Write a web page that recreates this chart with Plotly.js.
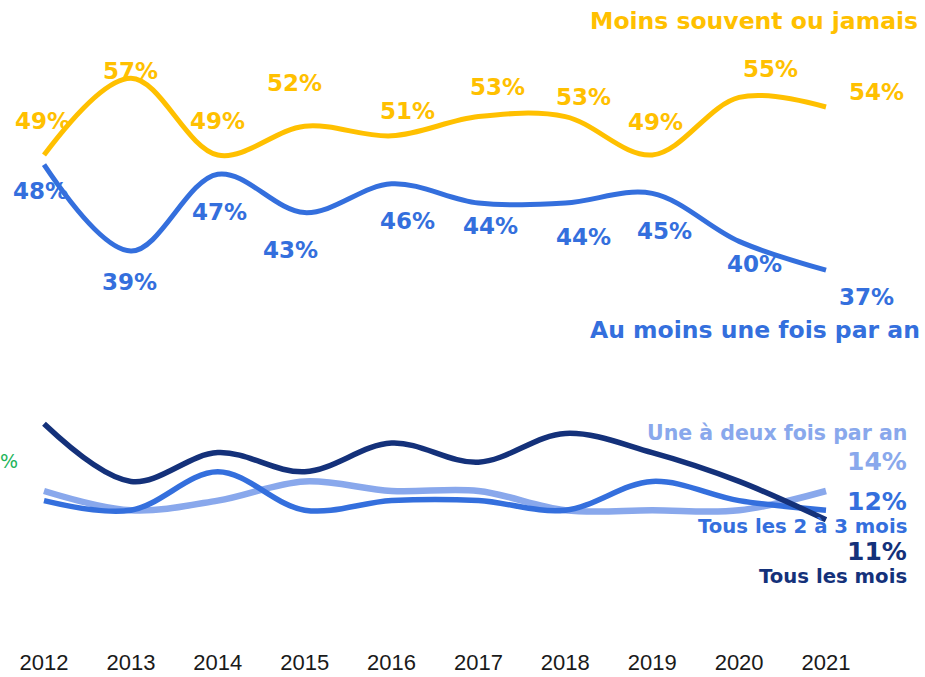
<!DOCTYPE html>
<html>
<head>
<meta charset="utf-8">
<script src="https://cdn.plot.ly/plotly-3.0.1.min.js"></script>
<style>
  html, body { margin: 0; padding: 0; background: #ffffff; }
  #chart { width: 925px; height: 677px; }
</style>
</head>
<body>
<div id="chart"></div>
<script>
// ---- Data ----
var years = [2012, 2013, 2014, 2015, 2016, 2017, 2018, 2019, 2020, 2021];
var moinsSouvent   = [49, 57, 49, 52, 51, 53, 53, 49, 55, 54];
var auMoinsUneFois = [48, 39, 47, 43, 46, 44, 44, 45, 40, 37];
var uneADeuxFois   = [14, 12, 13, 15, 14, 14, 12, 12, 12, 14];
var tousLes2a3Mois = [13, 12, 16, 12, 13, 13, 12, 15, 13, 12];
var tousLesMois    = [21, 15, 18, 16, 19, 17, 20, 18, 15, 11];
var seriesNames = {
  moins: "Moins souvent ou jamais",
  auMoins: "Au moins une fois par an",
  uneDeux: "Une à deux fois par an",
  deuxTrois: "Tous les 2 à 3 mois",
  mois: "Tous les mois"
};

// ---- Styles / layout helpers ----
var W = 925, H = 677;
var M = {l: 0, r: 0, t: 0, b: 30};
var C = {
  yellow: "#FFC000",
  blue: "#346FDD",
  light: "#89A8EC",
  navy: "#14317A",
  green: "#1DB45A"
};
var LABEL_FONT = "DejaVu Sans, Verdana, sans-serif";

// label offsets (pixels) for value labels
var offYellow = [[-2, 34], [0, 7], [0, 34], [-10, 43], [16, 25], [19, 30], [18, 20], [3, 33], [31, 28], [50, 15]];
var offBlue   = [[-4, -26], [-1, -31], [2, -38], [-14, -37], [16, -37], [12, -23], [18, -34], [12, -38], [15, -23], [40, -27]];

function px(x) { return (x - M.l) / (W - M.l - M.r); }
function py(y) { return 1 - (y - M.t) / (H - M.t - M.b); }

function lineTrace(y, color, width) {
  return {
    x: years, y: y, type: "scatter", mode: "lines",
    line: {color: color, width: width, shape: "spline", smoothing: 1},
    hoverinfo: "skip", showlegend: false
  };
}

var traces = [
  lineTrace(uneADeuxFois, C.light, 6.5),
  lineTrace(tousLes2a3Mois, C.blue, 5.5),
  lineTrace(tousLesMois, C.navy, 5.5),
  lineTrace(auMoinsUneFois, C.blue, 5),
  lineTrace(moinsSouvent, C.yellow, 5)
];

var annotations = [];
function valueLabels(vals, offs, color) {
  vals.forEach(function (v, i) {
    annotations.push({
      x: years[i], y: v, xref: "x", yref: "y",
      text: v + "%", showarrow: false,
      xanchor: "center", yanchor: "middle",
      xshift: offs[i][0], yshift: offs[i][1],
      font: {family: LABEL_FONT, size: 23, color: color, weight: "bold"}
    });
  });
}
valueLabels(moinsSouvent, offYellow, C.yellow);
valueLabels(auMoinsUneFois, offBlue, C.blue);

function textAt(text, x, yc, color, size, anchor, weight) {
  annotations.push({
    x: px(x), y: py(yc), xref: "paper", yref: "paper",
    text: text, showarrow: false, xanchor: anchor || "right", yanchor: "middle",
    font: {family: LABEL_FONT, size: size, color: color, weight: weight || "bold"}
  });
}
var last = years.length - 1;
textAt(seriesNames.moins, 920, 21, C.yellow, 23.5);
textAt(seriesNames.auMoins, 922, 330, C.blue, 23.5);
textAt(seriesNames.uneDeux, 909, 433, C.light, 20.5);
textAt(uneADeuxFois[last] + "%", 909, 461, C.light, 25);
textAt(tousLes2a3Mois[last] + "%", 909, 501, C.blue, 25);
textAt(seriesNames.deuxTrois, 909, 526, C.blue, 19.7);
textAt(tousLesMois[last] + "%", 909, 551, C.navy, 25);
textAt(seriesNames.mois, 909, 576, C.navy, 19.7);

// fragment of a label from the neighbouring chart at the left edge
textAt("%", -2, 461, C.green, 19, "left", "normal");

var layout = {
  width: W, height: H,
  margin: M,
  paper_bgcolor: "#ffffff", plot_bgcolor: "#ffffff",
  showlegend: false,
  xaxis: {
    range: [2011.4936, 2022.1394],
    tickvals: years, ticktext: years.map(String),
    showgrid: false, zeroline: false, showline: false, ticks: "",
    tickfont: {family: "Liberation Sans Narrow, Liberation Sans, Arial, sans-serif", size: 22, color: "#1a1a1a"},
    fixedrange: true
  },
  yaxis: {
    range: [-2.25, 65.146],
    visible: false, showgrid: false, zeroline: false, fixedrange: true
  },
  annotations: annotations
};

Plotly.newPlot("chart", traces, layout, {displayModeBar: false, staticPlot: true});
</script>
</body>
</html>
